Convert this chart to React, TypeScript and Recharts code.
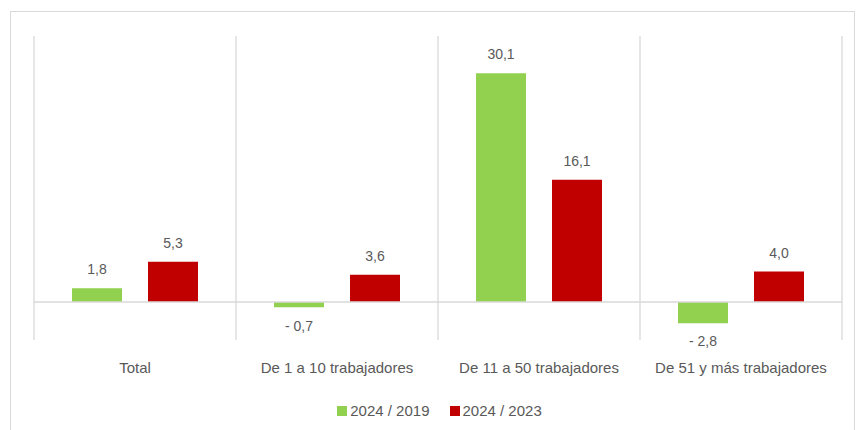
import React from 'react';
import {
  BarChart,
  Bar,
  XAxis,
  YAxis,
  CartesianGrid,
  ReferenceLine,
  Legend,
  LabelList,
} from 'recharts';

const categories = ['Total', 'De 1 a 10 trabajadores', 'De 11 a 50 trabajadores', 'De 51 y más trabajadores'];
const vs2019 = [1.8, -0.7, 30.1, -2.8];
const vs2023 = [5.3, 3.6, 16.1, 4.0];

const data = categories.map((name, i) => ({ name, vs2019: vs2019[i], vs2023: vs2023[i] }));

const textColor = '#595959';
const gridColor = '#d9d9d9';

const fmt = (v: number) => (v < 0 ? `- ${Math.abs(v).toFixed(1).replace('.', ',')}` : v.toFixed(1).replace('.', ','));

const ValueLabel = (props: any) => {
  const { x, y, width, height, value } = props;
  const top = Math.min(y, y + height);
  const bottom = Math.max(y, y + height);
  const cx = x + width / 2;
  if (value < 0) {
    return (
      <text x={cx} y={bottom + 12} dy="0.8em" textAnchor="middle" fill={textColor} fontSize={14}>
        {fmt(value)}
      </text>
    );
  }
  return (
    <text x={cx} y={top - 14} textAnchor="middle" fill={textColor} fontSize={14}>
      {fmt(value)}
    </text>
  );
};

const LegendContent = ({ payload }: any) => (
  <div style={{ display: 'flex', justifyContent: 'center', paddingLeft: 3 }}>
    {(payload || []).map((entry: any) => (
      <div key={entry.value} style={{ display: 'flex', alignItems: 'center', margin: '0 10px' }}>
        <span style={{ width: 10, height: 10, background: entry.color, display: 'inline-block', marginRight: 3 }} />
        <span style={{ color: textColor, fontSize: 15 }}>{entry.value}</span>
      </div>
    ))}
  </div>
);

const App: React.FC = () => {
  return (
    <div style={{ position: 'absolute', left: 0, top: 0, width: 856, height: 430, background: '#fff', fontFamily: '"Liberation Sans", Arial, sans-serif' }}>
      <div style={{ position: 'absolute', left: 10, top: 11, width: 845, height: 430, border: `1px solid ${gridColor}`, boxSizing: 'border-box' }} />
      <div style={{ position: 'absolute', left: 0, top: 0 }}>
        <BarChart
          width={856}
          height={430}
          data={data}
          margin={{ top: 36, right: 14, bottom: 11, left: 34 }}
          barCategoryGap={38}
          barGap={26}
          barSize={50}
        >
          <CartesianGrid
            horizontal={false}
            stroke={gridColor}
            strokeWidth={1.3}
            verticalCoordinatesGenerator={({ offset }: any) =>
              [0, 1, 2, 3, 4].map((i) => offset.left + (i * offset.width) / 4)
            }
          />
          <XAxis
            dataKey="name"
            axisLine={false}
            tickLine={false}
            tickSize={0}
            tickMargin={22}
            height={62}
            tick={{ fill: textColor, fontSize: 15 }}
            interval={0}
          />
          <YAxis hide domain={[-5, 35]} />
          <ReferenceLine y={0} stroke={gridColor} strokeWidth={1.5} />
          <Legend verticalAlign="bottom" content={LegendContent} />
          <Bar dataKey="vs2019" name="2024 / 2019" fill="#92D050" isAnimationActive={false}>
            <LabelList dataKey="vs2019" content={ValueLabel} />
          </Bar>
          <Bar dataKey="vs2023" name="2024 / 2023" fill="#C00000" isAnimationActive={false}>
            <LabelList dataKey="vs2023" content={ValueLabel} />
          </Bar>
        </BarChart>
      </div>
    </div>
  );
};

export default App;
